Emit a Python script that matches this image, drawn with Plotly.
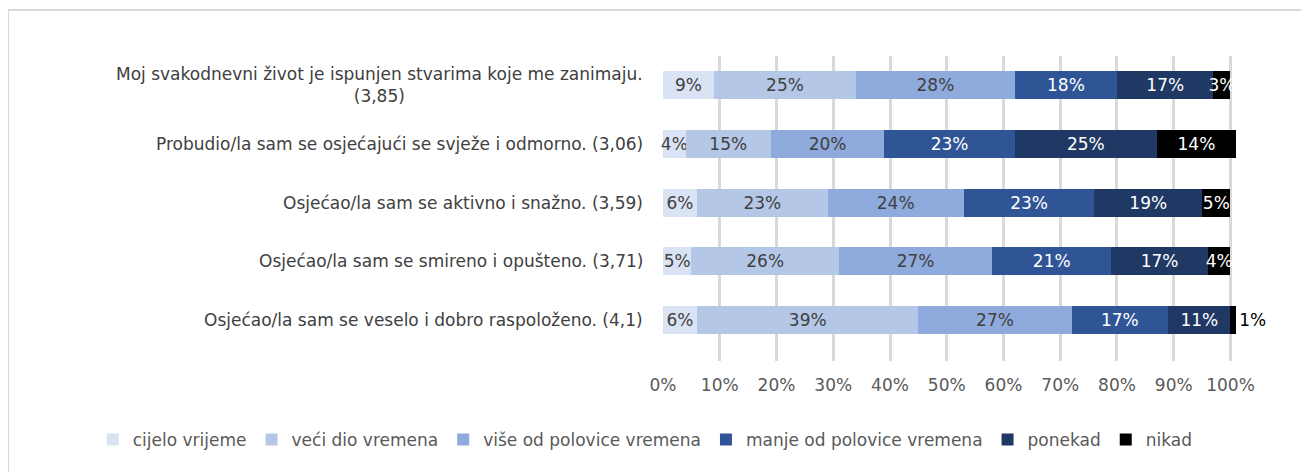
import plotly.graph_objects as go

categories = [
    "Moj svakodnevni život je ispunjen stvarima koje me zanimaju.<br>(3,85)",
    "Probudio/la sam se osjećajući se svježe i odmorno. (3,06)",
    "Osjećao/la sam se aktivno i snažno. (3,59)",
    "Osjećao/la sam se smireno i opušteno. (3,71)",
    "Osjećao/la sam se veselo i dobro raspoloženo. (4,1)",
]
series_names = [
    "cijelo vrijeme",
    "veći dio vremena",
    "više od polovice vremena",
    "manje od polovice vremena",
    "ponekad",
    "nikad",
]
cijelo_vrijeme = [9, 4, 6, 5, 6]
veci_dio = [25, 15, 23, 26, 39]
vise_od_polovice = [28, 20, 24, 27, 27]
manje_od_polovice = [18, 23, 23, 21, 17]
ponekad = [17, 25, 19, 17, 11]
nikad = [3, 14, 5, 4, 1]
series_values = [cijelo_vrijeme, veci_dio, vise_od_polovice, manje_od_polovice, ponekad, nikad]
x_ticks = [0, 10, 20, 30, 40, 50, 60, 70, 80, 90, 100]
x_tick_labels = [f"{t}%" for t in x_ticks]

colors = ["#dae3f3", "#b4c7e7", "#8faadc", "#2f5597", "#203864", "#000000"]
text_colors = ["#404040", "#404040", "#404040", "#ffffff", "#ffffff", "#ffffff"]

FONT = "DejaVu Sans, sans-serif"
FS = 17

fig = go.Figure()
for name, vals, col, tcol in zip(series_names, series_values, colors, text_colors):
    positions = ["inside"] * len(vals)
    if name == "nikad":
        positions = ["inside", "inside", "inside", "inside", "outside"]
    fig.add_trace(go.Bar(
        y=categories, x=vals, name=name, orientation="h",
        marker=dict(color=col, line=dict(width=0)),
        text=[f"{v}%" for v in vals],
        textposition=positions,
        textangle=0,
        insidetextanchor="middle",
        insidetextfont=dict(color=tcol, size=FS, family=FONT),
        outsidetextfont=dict(color="#000000", size=FS, family=FONT),
        cliponaxis=False,
        hoverinfo="skip",
    ))

for cat in categories:
    fig.add_annotation(
        x=-0.031, xref="paper", y=cat, yref="y",
        text=cat, showarrow=False, xanchor="right", yanchor="middle",
        align="center", font=dict(size=FS, color="#404040", family=FONT),
    )

fig.add_shape(type="rect", xref="paper", yref="paper",
              x0=-1.137, x1=1.2, y0=-0.5, y1=1.151,
              line=dict(color="#d9d9d9", width=2), fillcolor="rgba(0,0,0,0)", layer="below")

fig.update_layout(
    width=1301, height=464,
    barmode="stack", bargap=0.52,
    margin=dict(l=655, r=70, t=48, b=111, autoexpand=False),
    paper_bgcolor="white", plot_bgcolor="white",
    uniformtext=dict(minsize=FS, mode="show"),
    showlegend=True,
    legend=dict(orientation="h", xref="paper", yref="paper",
                x=-0.99, y=-0.259, xanchor="left", yanchor="middle",
                font=dict(size=FS, color="#595959", family=FONT),
                itemwidth=30, traceorder="normal"),
    xaxis=dict(range=[0, 101.5], tickvals=x_ticks, ticktext=x_tick_labels,
               showgrid=True, gridcolor="#d9d9d9", gridwidth=3,
               zeroline=False, showline=False,
               tickfont=dict(size=FS, color="#595959", family=FONT),
               ticklabelstandoff=12),
    yaxis=dict(range=[4.7, -0.5], showticklabels=False, showgrid=False,
               zeroline=False, showline=False),
)

fig.write_html("out.html")
